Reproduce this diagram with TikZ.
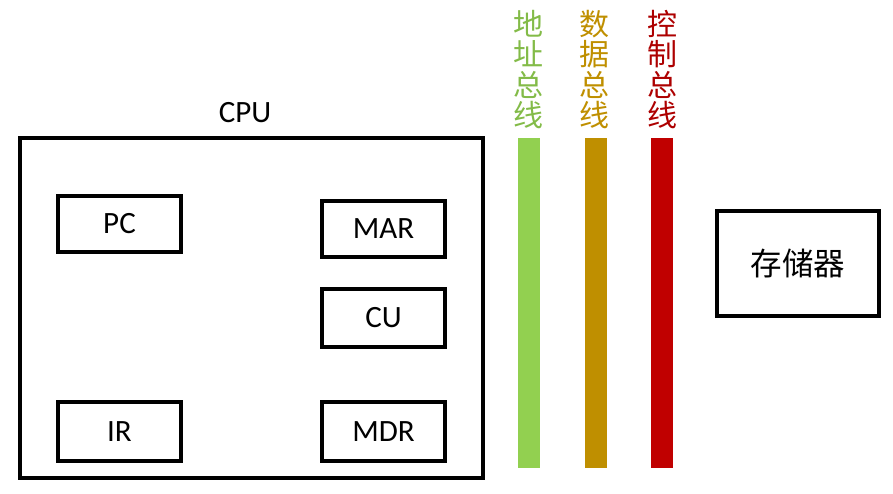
\documentclass[tikz,border=0pt]{standalone}
\usepackage{fontspec}
\setmainfont{Carlito}
\newfontfamily\cjk{Noto Sans CJK SC}
\definecolor{busgreen}{HTML}{92D050}
\definecolor{busbrown}{HTML}{BF8F00}
\definecolor{busred}{HTML}{C00000}
\begin{document}
\begin{tikzpicture}[x=1pt,y=-1pt,
  reg/.style={draw=black,line width=3.2pt,minimum width=123pt,minimum height=56pt,inner sep=0pt,font=\fontsize{31}{33}\selectfont},
  bar/.style={minimum width=22pt,minimum height=330pt,inner sep=0pt,draw=none},
  buslabel/.style={font=\cjk\fontsize{30}{30.5}\selectfont,align=center,inner sep=0pt,anchor=north}]
\useasboundingbox (0,0) rectangle (893,493);
\node[draw=black,line width=3.2pt,minimum width=463pt,minimum height=340pt,inner sep=0pt] (cpu) at (251.5,308) {};
\node[font=\fontsize{31}{33}\selectfont] (cpulabel) at (245,113) {CPU};
\node[reg] (pc) at (119.5,224) {PC};
\node[reg] (mar) at (383.5,229) {MAR};
\node[reg,minimum height=58pt] (cu) at (383.5,318) {CU};
\node[reg,minimum height=59pt] (ir) at (119.5,431.5) {IR};
\node[reg,minimum height=59pt] (mdr) at (383.5,431.5) {MDR};
\node[reg,minimum width=162pt,minimum height=105pt,font=\cjk\fontsize{31.5}{33}\selectfont] (mem) at (798,263.5) {存储器};
\node[bar,fill=busgreen] (abus) at (529,303) {};
\node[bar,fill=busbrown] (dbus) at (596,303) {};
\node[bar,fill=busred] (cbus) at (662,303) {};
\node[buslabel,text=busgreen!90!black] (alabel) at (528,10) {地\\址\\总\\线};
\node[buslabel,text=busbrown] (dlabel) at (594,10) {数\\据\\总\\线};
\node[buslabel,text=busred!90!black] (clabel) at (662,10) {控\\制\\总\\线};
\end{tikzpicture}
\end{document}
